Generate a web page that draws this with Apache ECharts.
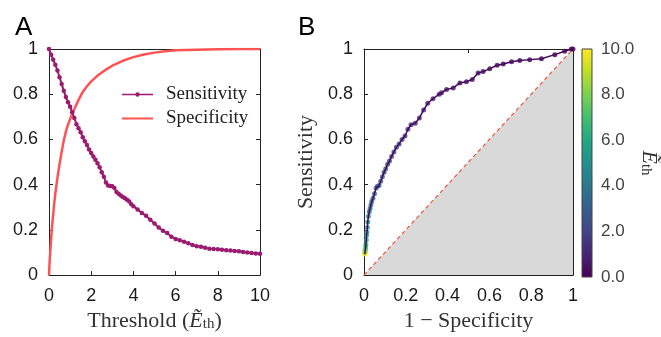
<!DOCTYPE html>
<html>
<head>
<meta charset="utf-8">
<script src="https://cdn.jsdelivr.net/npm/echarts@6/dist/echarts.min.js"></script>
<style>html,body{margin:0;padding:0;background:#fff}#c{width:661px;height:337px}</style>
</head>
<body>
<div id="c"></div>
<script>
// Panel A: sensitivity vs threshold
const threshA = [0,0.1,0.2,0.3,0.4,0.5,0.6,0.7,0.8,0.9,1.0,1.1,1.2,1.3,1.4,1.5,1.6,1.7,1.8,1.9,2.0,2.1,2.2,2.3,2.4,2.5,2.6,2.7,2.8,2.9,3.0,3.1,3.2,3.3,3.4,3.5,3.6,3.7,3.8,3.9,4.0,4.2,4.4,4.6,4.8,5.0,5.2,5.4,5.6,5.8,6.0,6.2,6.4,6.6,6.8,7.0,7.2,7.4,7.6,7.8,8.0,8.2,8.4,8.6,8.8,9.0,9.2,9.4,9.6,9.8,10];
const sensA = [1.0,0.975,0.953,0.93,0.905,0.875,0.845,0.815,0.788,0.765,0.745,0.72,0.695,0.667,0.65,0.632,0.61,0.592,0.575,0.555,0.54,0.525,0.51,0.495,0.477,0.455,0.435,0.41,0.396,0.394,0.393,0.385,0.367,0.36,0.352,0.345,0.34,0.333,0.325,0.313,0.305,0.29,0.275,0.262,0.245,0.228,0.21,0.196,0.186,0.17,0.16,0.154,0.148,0.141,0.133,0.128,0.125,0.121,0.117,0.115,0.114,0.112,0.11,0.109,0.107,0.105,0.102,0.1,0.098,0.096,0.094];
// Panel A: specificity vs threshold
const threshSpec = [0,0.02,0.05,0.1,0.15,0.2,0.25,0.3,0.4,0.5,0.6,0.7,0.8,0.9,1.0,1.2,1.4,1.6,1.8,2.0,2.25,2.5,2.75,3.0,3.5,4.0,4.5,5.0,5.5,6.0,7.0,8.0,9.0,10];
const specA = [0,0.04,0.09,0.16,0.22,0.27,0.32,0.36,0.43,0.49,0.545,0.595,0.635,0.665,0.69,0.735,0.775,0.81,0.835,0.857,0.878,0.896,0.912,0.926,0.948,0.964,0.976,0.984,0.99,0.994,0.997,0.999,1.0,1.0];
// Panel B: ROC points (threshold, 1-specificity, sensitivity)
const rocThr = [10.0,9.5,9.0,8.5,8.0,7.5,7.0,6.5,6.0,5.7,5.4,5.1,4.8,4.5,4.2,4.0,3.8,3.6,3.4,3.2,3.0,2.9,2.8,2.7,2.6,2.5,2.4,2.3,2.2,2.1,2.0,1.9,1.8,1.7,1.6,1.5,1.4,1.3,1.2,1.1,1.0,0.9,0.8,0.72,0.66,0.60,0.55,0.50,0.45,0.40,0.36,0.32,0.28,0.24,0.20,0.16,0.12,0.09,0.06,0.03,0.01,0];
const rocFpr = [0.004,0.004,0.005,0.005,0.006,0.007,0.008,0.009,0.011,0.012,0.014,0.016,0.018,0.021,0.025,0.029,0.033,0.037,0.043,0.05,0.058,0.064,0.072,0.08,0.088,0.096,0.104,0.113,0.122,0.132,0.143,0.155,0.168,0.182,0.196,0.21,0.225,0.245,0.265,0.285,0.305,0.33,0.36,0.371,0.395,0.427,0.459,0.49,0.518,0.546,0.57,0.602,0.637,0.666,0.706,0.745,0.793,0.849,0.913,0.96,0.992,1.0];
const rocTpr = [0.093,0.095,0.10,0.105,0.11,0.115,0.125,0.135,0.155,0.175,0.19,0.21,0.235,0.26,0.28,0.295,0.31,0.325,0.34,0.36,0.385,0.393,0.396,0.415,0.435,0.455,0.47,0.49,0.505,0.525,0.545,0.565,0.58,0.60,0.615,0.645,0.665,0.672,0.695,0.73,0.76,0.78,0.80,0.806,0.821,0.828,0.85,0.855,0.865,0.894,0.90,0.913,0.928,0.934,0.944,0.949,0.953,0.957,0.975,0.99,1.0,1.0];
const diagX = [0,1];
const diagY = [0,1];
const colorbarTicks = ['0.0','2.0','4.0','6.0','8.0','10.0'];
const viridis = ['#440154','#482475','#414487','#355f8d','#2a788e','#21918c','#22a884','#44bf70','#7ad151','#bddf26','#fde725'];

const chart = echarts.init(document.getElementById('c'));
const sans = 'Liberation Sans';
const serif = 'Liberation Serif';
const axisCol = '#222';
const lblStyle = {fontFamily: sans, fontSize: 18, color: '#1a1a1a'};

const nameRich = {
  n: {fontFamily: serif, fontSize: 22, color: '#333'},
  e: {fontFamily: serif, fontSize: 22, fontStyle: 'italic', color: '#333'},
  s: {fontFamily: serif, fontSize: 15, color: '#333', verticalAlign: 'bottom', lineHeight: 14}
};

function mainX(gi, min, max, interval, name) {
  return {type: 'value', gridIndex: gi, min, max, interval, position: 'bottom',
    axisLine: {show: true, lineStyle: {color: axisCol, width: 1}},
    axisTick: {show: true, inside: true, length: 4, lineStyle: {color: axisCol}},
    axisLabel: Object.assign({margin: 12}, lblStyle),
    splitLine: {show: false},
    name: name, nameLocation: 'middle', nameGap: 33,
    nameTextStyle: {rich: nameRich}};
}
function mainY(gi, name) {
  return {type: 'value', gridIndex: gi, min: 0, max: 1, interval: 0.2, position: 'left',
    axisLine: {show: true, lineStyle: {color: axisCol, width: 1}},
    axisTick: {show: true, inside: true, length: 4, lineStyle: {color: axisCol}},
    axisLabel: Object.assign({margin: 11}, lblStyle),
    splitLine: {show: false},
    name: name, nameLocation: 'middle', nameGap: 47,
    nameTextStyle: {fontFamily: serif, fontSize: 22, color: '#333'}};
}
function mirror(gi, pos, min, max, interval, ticks) {
  return {type: 'value', gridIndex: gi, min, max, interval, position: pos,
    axisLine: {show: true, onZero: false, lineStyle: {color: axisCol, width: 1}},
    axisTick: {show: ticks, inside: true, length: 4, lineStyle: {color: axisCol}},
    axisLabel: {show: false}, splitLine: {show: false}};
}

const sensIcon = 'path://M0 0L0.01 0Z M0 4.2H13.4V5.8H0Z M17.6 4.2H31V5.8H17.6Z M13.3 5A2.2 2.2 0 1 0 17.7 5A2.2 2.2 0 1 0 13.3 5Z M0 10L0.01 10Z';
const specIcon = 'path://M0 0L0.01 0Z M0 4H31V6H0Z M0 10L0.01 10Z';

const option = {
  animation: false,
  backgroundColor: '#fff',
  title: [
    {text: 'A', left: 10, top: 10, textStyle: {fontFamily: sans, fontSize: 26, fontWeight: 'normal', color: '#000'}},
    {text: 'B', left: 293, top: 10, textStyle: {fontFamily: sans, fontSize: 26, fontWeight: 'normal', color: '#000'}}
  ],
  grid: [
    {left: 49, top: 49, width: 211, height: 228},
    {left: 364, top: 49, width: 209, height: 228},
    {left: 582, top: 49, width: 19, height: 228, show: true, borderColor: '#444', borderWidth: 1, backgroundColor: 'transparent', z: 5}
  ],
  legend: {
    left: 117, top: 80, orient: 'vertical', itemWidth: 31, itemHeight: 10, itemGap: 5,
    data: [{name: 'Sensitivity', icon: sensIcon}, {name: 'Specificity', icon: specIcon}],
    textStyle: {fontFamily: serif, fontSize: 19, color: '#222', padding: [0, 0, 0, 8]}
  },
  xAxis: [
    mainX(0, 0, 10, 2, '{n|Threshold (}{e|Ẽ}{s|th}{n|)}'),
    mirror(0, 'top', 0, 10, 2, false),
    mainX(1, 0, 1, 0.2, '{n|1 − Specificity}'),
    mirror(1, 'top', 0, 1, 0.5, true),
    {type: 'category', gridIndex: 2, data: [''], show: false, boundaryGap: true}
  ],
  yAxis: [
    mainY(0, ''),
    mirror(0, 'right', 0, 1, 0.2, true),
    mainY(1, 'Sensitivity'),
    mirror(1, 'right', 0, 1, 0.2, true),
    {type: 'value', gridIndex: 2, min: 0, max: 10, interval: 2, position: 'right',
      axisLine: {show: false}, axisTick: {show: false}, splitLine: {show: false},
      axisLabel: {fontFamily: sans, fontSize: 17, color: '#444', margin: 9,
        formatter: (v) => colorbarTicks[Math.round(v / 2)]},
      name: '{e|Ẽ}{s|th}', nameLocation: 'middle', nameRotate: -90, nameGap: 33,
      nameTextStyle: {rich: nameRich}}
  ],
  visualMap: [{
    show: false, type: 'continuous', seriesIndex: 3, dimension: 2, min: 0, max: 10,
    inRange: {color: viridis}
  }],
  series: [
    {name: 'Specificity', type: 'line', xAxisIndex: 0, yAxisIndex: 0,
      data: threshSpec.map((t, i) => [t, specA[i]]),
      showSymbol: false, symbol: 'none', smooth: false,
      lineStyle: {color: '#ff5252', width: 2.5, join: 'round'}, itemStyle: {color: '#ff5252'}, z: 3},
    {name: 'Sensitivity', type: 'line', xAxisIndex: 0, yAxisIndex: 0,
      data: threshA.map((t, i) => [t, sensA[i]]),
      symbol: 'circle', symbolSize: 4.5, showSymbol: true,
      lineStyle: {color: '#9b1b70', width: 2}, itemStyle: {color: '#9b1b70'}, z: 4},
    {type: 'line', xAxisIndex: 2, yAxisIndex: 2,
      data: diagX.map((x, i) => [x, diagY[i]]), showSymbol: false, symbol: 'none',
      lineStyle: {color: '#f0553a', width: 1.2, type: [4, 3]},
      areaStyle: {color: '#d9d9d9', opacity: 1}, z: 1},
    {type: 'scatter', xAxisIndex: 2, yAxisIndex: 2,
      data: rocThr.map((t, i) => [rocFpr[i], rocTpr[i], t]),
      symbolSize: 5, z: 3},
    {type: 'line', xAxisIndex: 2, yAxisIndex: 2,
      data: rocThr.map((t, i) => [rocFpr[i], rocTpr[i]]), showSymbol: false, symbol: 'none',
      lineStyle: {color: '#46085c', width: 1.5}, z: 4},
    {type: 'bar', xAxisIndex: 4, yAxisIndex: 4, data: [10], barWidth: '100%', silent: true,
      itemStyle: {color: new echarts.graphic.LinearGradient(0, 1, 0, 0,
        viridis.map((c, i) => ({offset: i / (viridis.length - 1), color: c})))}, z: 2}
  ]
};
chart.setOption(option);
</script>
</body>
</html>
